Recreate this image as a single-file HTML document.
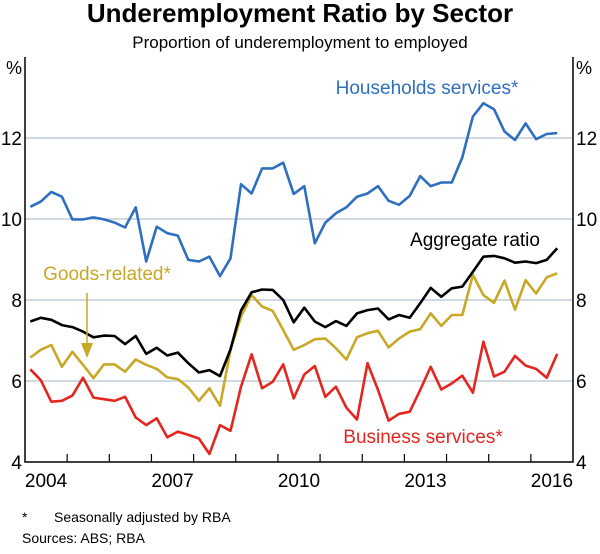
<!DOCTYPE html>
<html><head><meta charset="utf-8"><style>
body{margin:0;background:#fff;font-family:"Liberation Sans",sans-serif;}
svg text{font-family:"Liberation Sans",sans-serif;}
</style></head><body>
<svg id="chart" width="600" height="549" viewBox="0 0 600 549">
<text x="300" y="22" text-anchor="middle" font-size="26" font-weight="bold">Underemployment Ratio by Sector</text>
<text x="300" y="48" text-anchor="middle" font-size="17">Proportion of underemployment to employed</text>
<g id="grid"></g>
<g id="axes"></g>
<g id="series"></g>
<text x="427" y="94" text-anchor="middle" font-size="19" fill="#2f6fbf">Households services*</text>
<text x="475" y="246" text-anchor="middle" font-size="19" fill="#000">Aggregate ratio</text>
<text x="107" y="280" text-anchor="middle" font-size="19" fill="#c8a827">Goods-related*</text>
<line x1="87" y1="293" x2="87" y2="345" stroke="#c8a827" stroke-width="1.5"/>
<polygon points="81,343 93,343 87,358" fill="#c8a827"/>
<text x="423" y="443" text-anchor="middle" font-size="19" fill="#e3261f">Business services*</text>
<text x="22" y="522" font-size="14">*</text>
<text x="54" y="522" font-size="14">Seasonally adjusted by RBA</text>
<text x="22" y="543" font-size="14">Sources:   ABS; RBA</text>
</svg>
<script>
const households=[10.30,10.43,10.67,10.55,9.99,9.99,10.04,9.99,9.91,9.79,10.29,8.95,9.81,9.65,9.59,8.99,8.95,9.07,8.59,9.03,10.86,10.63,11.25,11.25,11.39,10.62,10.81,9.40,9.91,10.14,10.29,10.55,10.63,10.81,10.45,10.35,10.57,11.06,10.81,10.90,10.90,11.52,12.53,12.86,12.71,12.16,11.95,12.36,11.97,12.10,12.12];
const aggregate=[7.47,7.56,7.51,7.38,7.33,7.22,7.08,7.12,7.11,6.91,7.11,6.67,6.82,6.63,6.70,6.44,6.21,6.27,6.12,6.78,7.74,8.19,8.26,8.25,8.00,7.45,7.81,7.47,7.33,7.48,7.36,7.67,7.75,7.79,7.52,7.63,7.56,7.92,8.30,8.08,8.29,8.33,8.70,9.07,9.09,9.03,8.92,8.95,8.91,8.99,9.28];
const goods=[6.58,6.77,6.89,6.35,6.72,6.40,6.07,6.41,6.41,6.23,6.53,6.40,6.30,6.09,6.05,5.84,5.51,5.82,5.39,6.77,7.59,8.12,7.84,7.73,7.26,6.77,6.89,7.03,7.05,6.81,6.53,7.08,7.18,7.24,6.83,7.05,7.22,7.28,7.67,7.36,7.63,7.63,8.62,8.12,7.93,8.48,7.76,8.49,8.16,8.56,8.66];
const business=[6.29,6.02,5.49,5.51,5.64,6.08,5.59,5.55,5.51,5.61,5.10,4.91,5.08,4.61,4.75,4.67,4.58,4.20,4.91,4.77,5.86,6.66,5.82,5.98,6.41,5.57,6.16,6.37,5.61,5.86,5.34,5.05,6.44,5.78,5.02,5.19,5.24,5.78,6.35,5.79,5.94,6.13,5.71,6.97,6.11,6.23,6.62,6.38,6.30,6.08,6.67];
const startYear=2004.125;
const yTicks=[4,6,8,10,12];
const xLabels=[2004,2007,2010,2013,2016];
const X0=25,X1=573,Y0=462,YT=57,yMin=4,yMax=14,xMin=2004,xMax=2017;
const NS="http://www.w3.org/2000/svg";
function xs(t){return X0+(t-xMin)/(xMax-xMin)*(X1-X0);}
function ys(v){return Y0-(v-yMin)/(yMax-yMin)*(Y0-YT);}
function mk(tag,attrs,parent){const e=document.createElementNS(NS,tag);for(const k in attrs)e.setAttribute(k,attrs[k]);parent.appendChild(e);return e;}
const grid=document.getElementById('grid'),axes=document.getElementById('axes'),ser=document.getElementById('series');
yTicks.forEach(v=>{
  if(v>yMin){const l=mk('line',{x1:X0,x2:X1,y1:ys(v),y2:ys(v),stroke:'#b4c0cf','stroke-width':1.2},grid);
  
  }
  const a=mk('text',{x:X0-3,y:ys(v)+7,'text-anchor':'end','font-size':19},axes);a.textContent=v;
  
  
  const b=mk('text',{x:X1+3,y:ys(v)+7,'text-anchor':'start','font-size':19},axes);b.textContent=v;
  
  
});
[['%',X0-3,'end'],['%',X1+3,'start']].forEach((p,i)=>{const t=mk('text',{x:p[1],y:74,'text-anchor':p[2],'font-size':18},axes);t.textContent=p[0];
  
  });
const frame=mk('path',{d:`M${X0},${YT} V${Y0} H${X1} V${YT}`,fill:'none',stroke:'#000','stroke-width':1.5},axes);


for(let y=xMin+1;y<xMax;y++){const t=mk('line',{x1:xs(y),x2:xs(y),y1:Y0,y2:Y0-8,stroke:'#000','stroke-width':1.2},axes);
  
  }
xLabels.forEach(y=>{const t=mk('text',{x:xs(y+0.5),y:Y0+25,'text-anchor':'middle','font-size':19},axes);t.textContent=y;
  
  });
function line(data,color,name){
  const d=data.map((v,i)=>(i?'L':'M')+xs(startYear+i*0.25).toFixed(1)+','+ys(v).toFixed(1)).join(' ');
  const p=mk('path',{d:d,fill:'none',stroke:color,'stroke-width':2.6,'stroke-linejoin':'round'},ser);
  
  
}
line(households,'#2f6fbf','households-line');
line(goods,'#c8a827','goods-line');
line(business,'#e3261f','business-line');
line(aggregate,'#000','aggregate-line');
</script>
</body></html>
